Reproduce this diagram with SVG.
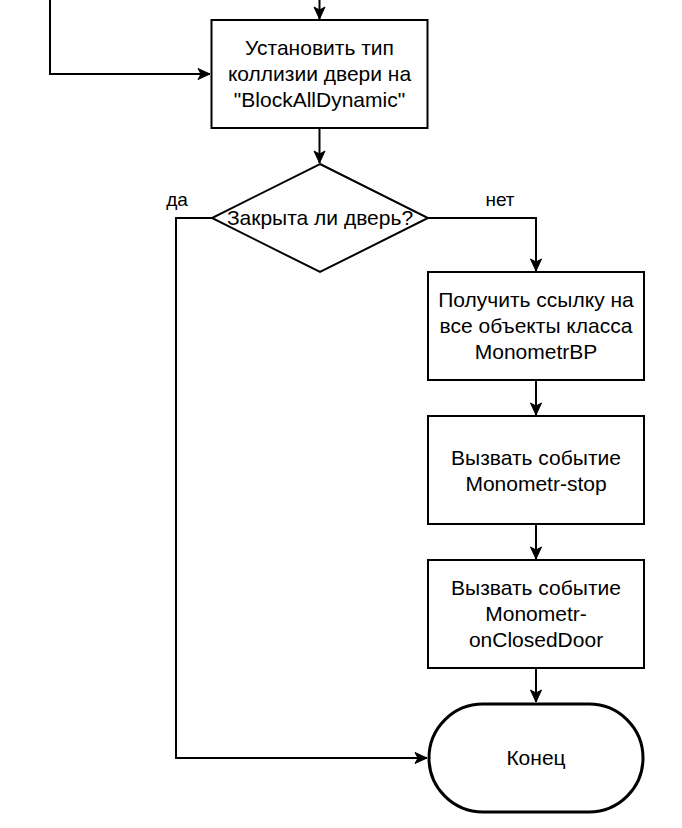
<svg xmlns="http://www.w3.org/2000/svg" width="682" height="828" viewBox="0 0 682 828">
<style>
.n{fill:#fff;stroke:#000;stroke-width:2}
.t{font-family:"Liberation Sans",Arial,sans-serif;font-size:21px;fill:#000;text-anchor:middle}
.e{font-family:"Liberation Sans",Arial,sans-serif;font-size:19px;fill:#000;text-anchor:middle}
.l{fill:none;stroke:#000;stroke-width:2}
</style>
<defs>
<marker id="a" markerUnits="userSpaceOnUse" markerWidth="14" markerHeight="14" viewBox="0 0 14 14" refX="13" refY="7" orient="auto">
<path d="M1,1.5 L13,7 L1,12.5 L4,7 z" fill="#000" stroke="#000" stroke-width="1"/>
</marker>
</defs>
<rect width="682" height="828" fill="#fff"/>
<g id="connectors">
<path class="l" d="M319.5,0 V19" marker-end="url(#a)"/>
<path class="l" d="M50,0 V74 H210" marker-end="url(#a)"/>
<path class="l" d="M319.5,128 V163" marker-end="url(#a)"/>
<path class="l" d="M428,218 H536 V271" marker-end="url(#a)"/>
<path class="l" d="M212,218 H176 V758 H427" marker-end="url(#a)"/>
<path class="l" d="M536,380 V415" marker-end="url(#a)"/>
<path class="l" d="M536,524 V559" marker-end="url(#a)"/>
<path class="l" d="M536,668 V702" marker-end="url(#a)"/>
<text class="e" x="177" y="206">да</text>
<text class="e" x="500" y="206">нет</text>
</g>
<g id="set-collision">
<rect class="n" x="211.5" y="20" width="216" height="108"/>
<text class="t" x="319.5" y="55">Установить тип</text>
<text class="t" x="319.5" y="81">коллизии двери на</text>
<text class="t" x="319.5" y="107">"BlockAllDynamic"</text>
</g>
<g id="door-closed">
<polygon class="n" points="320,164 428,218 320,272 212,218"/>
<text class="t" x="320" y="225">Закрыта ли дверь?</text>
</g>
<g id="get-refs">
<rect class="n" x="428" y="272" width="216" height="108"/>
<text class="t" x="536" y="307">Получить ссылку на</text>
<text class="t" x="536" y="333">все объекты класса</text>
<text class="t" x="536" y="359">MonometrBP</text>
</g>
<g id="event-stop">
<rect class="n" x="428" y="416" width="216" height="108"/>
<text class="t" x="536" y="465">Вызвать событие</text>
<text class="t" x="536" y="491">Monometr-stop</text>
</g>
<g id="event-closed">
<rect class="n" x="428" y="560" width="216" height="108"/>
<text class="t" x="536" y="595">Вызвать событие</text>
<text class="t" x="536" y="621">Monometr-</text>
<text class="t" x="536" y="647">onClosedDoor</text>
</g>
<g id="end">
<rect x="429" y="704" width="214" height="108" rx="54" ry="54" fill="#fff" stroke="#000" stroke-width="3"/>
<text class="t" x="536" y="765">Конец</text>
</g>
</svg>
